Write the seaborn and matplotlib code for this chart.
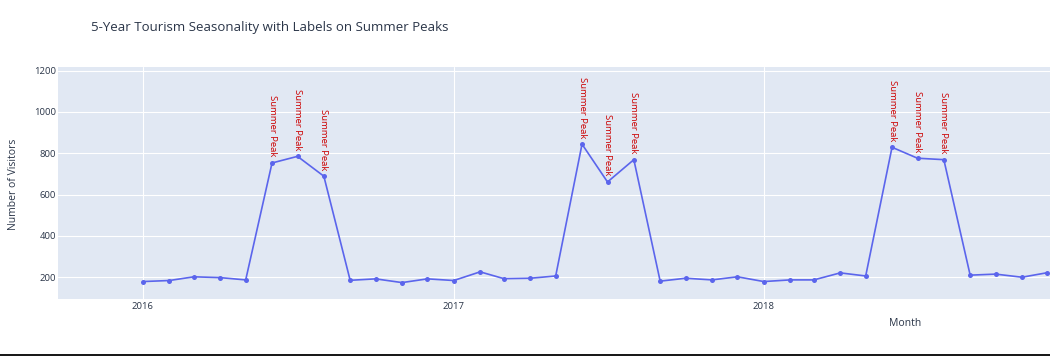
import numpy as np
import pandas as pd
import matplotlib.pyplot as plt
import seaborn as sns
from matplotlib.patches import Rectangle

# Monthly visitors, Jan 2016 - Dec 2018 (the visible part of the chart)
months = pd.date_range('2016-01-01', periods=36, freq='MS')
visitors = [179, 184, 202, 198, 187, 753, 785, 689, 185, 192, 174, 192,
            184, 226, 193, 195, 206, 844, 661, 769, 181, 195, 187, 202,
            179, 187, 187, 221, 206, 829, 776, 769, 210, 215, 200, 222]
summer_months = [6, 7, 8]
peak_label = 'Summer Peak'

y_ticks = [200, 400, 600, 800, 1000, 1200]
x_ticks = pd.to_datetime(['2016-01-01', '2017-01-01', '2018-01-01'])
x_tick_labels = ['2016', '2017', '2018']

df = pd.DataFrame({'Month': months, 'Visitors': visitors})

sns.set_theme(style='darkgrid', rc={'axes.facecolor': '#e1e8f3', 'grid.color': 'white'})
plt.rcParams['font.family'] = ['Open Sans', 'DejaVu Sans']

text_col = '#2a3548'
line_col = '#5b65ec'

fig = plt.figure(figsize=(10.5, 3.56), dpi=100)
ax = fig.add_axes([58 / 1050, 57.3 / 356, 1 - 58 / 1050, 232 / 356])

sns.lineplot(data=df, x='Month', y='Visitors', ax=ax, color=line_col,
             linewidth=1.2, marker='o', markersize=3.6, markeredgewidth=0,
             markerfacecolor=line_col)

# red vertical labels above the summer months
for m, v in zip(df['Month'], df['Visitors']):
    if m.month in summer_months:
        ax.annotate(peak_label, xy=(m, v), xytext=(0, 4.5), textcoords='offset points',
                    rotation=-90, ha='center', va='bottom', fontsize=6.8, color='#cc0000')

ax.set_xlim(pd.Timestamp('2015-09-23'), pd.Timestamp('2018-12-04'))
ax.set_ylim(96, 1219)
ax.set_yticks(y_ticks)
ax.set_xticks(x_ticks)
ax.set_xticklabels(x_tick_labels)
ax.grid(True, color='white', linewidth=0.8)
ax.tick_params(axis='both', length=0, labelsize=6.8, colors=text_col)
ax.tick_params(axis='y', pad=1.5)
ax.tick_params(axis='x', pad=2.5)
for s in ax.spines.values():
    s.set_visible(False)

ax.set_xlabel('Month', fontsize=7.5, color=text_col)
ax.set_ylabel('Number of Visitors', fontsize=7.5, color=text_col)
ax.xaxis.set_label_coords(0.854, -0.109)
ax.yaxis.set_label_coords(-0.0444, 0.494)
ax.xaxis.label.set_va('center')
ax.yaxis.label.set_va('center')

fig.text(91 / 1050, 1 - 27 / 356, '5-Year Tourism Seasonality with Labels on Summer Peaks',
         ha='left', va='center', fontsize=9.5, color=text_col)

# dark border line along the bottom edge
fig.add_artist(Rectangle((0, 0), 1, 2 / 356, transform=fig.transFigure,
                         color='#1a1a1a', linewidth=0))

fig.savefig('out.png', dpi=100)
